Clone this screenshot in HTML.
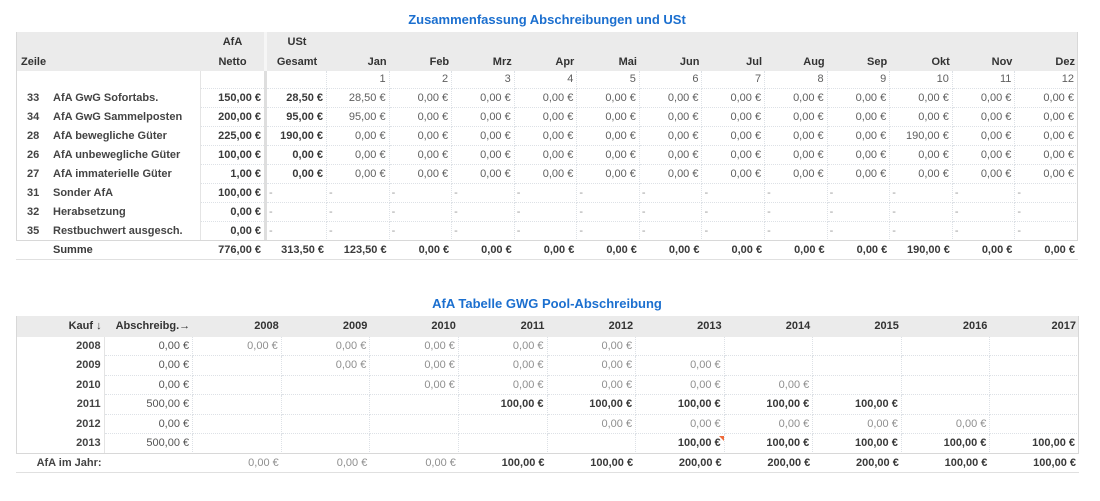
<!DOCTYPE html>
<html><head><meta charset="utf-8"><style>
body{margin:0;width:1100px;height:501px;background:#fff;font-family:"Liberation Sans",Arial,sans-serif;font-size:11px;color:#444;position:relative;overflow:hidden}
.title{position:absolute;left:16px;width:1062px;text-align:center;font-weight:bold;font-size:13px;color:#1b6fcf;height:16px;line-height:16px}
.tbl{position:absolute;left:16px}
.r{display:grid;grid-template-columns:185px 63px 3px 60px repeat(12,1fr);width:1062px}
.r>div{box-sizing:border-box;white-space:nowrap;text-align:right;padding-right:3px;overflow:visible}
.hd{height:39px;background:#ebebeb;font-weight:bold;color:#333}
.hd>div{line-height:19.5px;padding-top:1px}
.hd .ctr{text-align:center;padding-right:0}
.hd .zl{text-align:left;padding-left:5px}
.hd .sp{background:#f6f6f6}
.row{height:19px;line-height:18px}
.idx{height:18px;line-height:17px}
.row>div,.idx>div{border-bottom:1px dotted #dde1e6;border-right:1px dotted #dde1e6;color:#5f5f5f}
.row>div.z,.idx>div.z{text-align:left;padding-left:11px;border-right:1px solid #e4e4e4;border-bottom:none;font-weight:bold;color:#444}
.row>div.nt,.idx>div.nt{border-right:none}
.row>div.sp,.idx>div.sp{background:#dedede;border:none;padding:0}
.n{display:inline-block;width:26px}
.row>div.b{font-weight:bold;color:#3a3a3a}
.row>div.d{text-align:left;padding-left:2px;color:#9a9a9a}
.sum{height:19px;line-height:19px;font-weight:bold;color:#3a3a3a}
.sum>div.z{text-align:left;padding-left:11px}
.ln{position:absolute;background:#d8d8d8}
.r2{display:grid;grid-template-columns:repeat(12,1fr);width:1063px}
.r2>div{box-sizing:border-box;white-space:nowrap;text-align:right;padding-right:3px}
.h2{height:21px;line-height:21px;background:#ebebeb;font-weight:bold;color:#333}
.b2{line-height:18px}
.b2>div{border-bottom:1px dotted #dde1e6;border-right:1px dotted #dde1e6;color:#8f8f8f}
.b2>div.k{border-bottom:none;border-right:1px solid #e4e4e4;font-weight:bold;color:#444}
.b2>div.a{color:#555}
.b2>div.bb{font-weight:bold;color:#3a3a3a}
.s2{height:19px;line-height:19px}
.s2>div{color:#8f8f8f}
.s2>div.k{font-weight:bold;color:#444}
.s2>div.bb{font-weight:bold;color:#3a3a3a}
.tri{position:absolute;left:719px;top:436px;width:0;height:0;border-top:5px solid #ee6a3a;border-left:5px solid transparent}
</style></head><body>

<div class="title" style="top:12px">Zusammenfassung Abschreibungen und USt</div>

<div class="tbl" style="top:32px">
  <div class="r hd">
    <div class="zl"><br>Zeile</div>
    <div class="ctr">AfA<br>Netto</div>
    <div class="sp"></div>
    <div class="ctr">USt<br>Gesamt</div>
    <div><br>Jan</div><div><br>Feb</div><div><br>Mrz</div><div><br>Apr</div><div><br>Mai</div><div><br>Jun</div><div><br>Jul</div><div><br>Aug</div><div><br>Sep</div><div><br>Okt</div><div><br>Nov</div><div><br>Dez</div>
  </div>
  <div class="r idx">
    <div class="z"></div><div class="nt"></div><div class="sp"></div><div></div>
    <div>1</div><div>2</div><div>3</div><div>4</div><div>5</div><div>6</div><div>7</div><div>8</div><div>9</div><div>10</div><div>11</div><div>12</div>
  </div>
  <div class="r row">
    <div class="z"><span class="n">33</span>AfA GwG Sofortabs.</div><div class="nt b">150,00 €</div><div class="sp"></div><div class="b">28,50 €</div>
    <div>28,50 €</div><div>0,00 €</div><div>0,00 €</div><div>0,00 €</div><div>0,00 €</div><div>0,00 €</div><div>0,00 €</div><div>0,00 €</div><div>0,00 €</div><div>0,00 €</div><div>0,00 €</div><div>0,00 €</div>
  </div>
  <div class="r row">
    <div class="z"><span class="n">34</span>AfA GwG Sammelposten</div><div class="nt b">200,00 €</div><div class="sp"></div><div class="b">95,00 €</div>
    <div>95,00 €</div><div>0,00 €</div><div>0,00 €</div><div>0,00 €</div><div>0,00 €</div><div>0,00 €</div><div>0,00 €</div><div>0,00 €</div><div>0,00 €</div><div>0,00 €</div><div>0,00 €</div><div>0,00 €</div>
  </div>
  <div class="r row">
    <div class="z"><span class="n">28</span>AfA bewegliche Güter</div><div class="nt b">225,00 €</div><div class="sp"></div><div class="b">190,00 €</div>
    <div>0,00 €</div><div>0,00 €</div><div>0,00 €</div><div>0,00 €</div><div>0,00 €</div><div>0,00 €</div><div>0,00 €</div><div>0,00 €</div><div>0,00 €</div><div>190,00 €</div><div>0,00 €</div><div>0,00 €</div>
  </div>
  <div class="r row">
    <div class="z"><span class="n">26</span>AfA unbewegliche Güter</div><div class="nt b">100,00 €</div><div class="sp"></div><div class="b">0,00 €</div>
    <div>0,00 €</div><div>0,00 €</div><div>0,00 €</div><div>0,00 €</div><div>0,00 €</div><div>0,00 €</div><div>0,00 €</div><div>0,00 €</div><div>0,00 €</div><div>0,00 €</div><div>0,00 €</div><div>0,00 €</div>
  </div>
  <div class="r row">
    <div class="z"><span class="n">27</span>AfA immaterielle Güter</div><div class="nt b">1,00 €</div><div class="sp"></div><div class="b">0,00 €</div>
    <div>0,00 €</div><div>0,00 €</div><div>0,00 €</div><div>0,00 €</div><div>0,00 €</div><div>0,00 €</div><div>0,00 €</div><div>0,00 €</div><div>0,00 €</div><div>0,00 €</div><div>0,00 €</div><div>0,00 €</div>
  </div>
  <div class="r row">
    <div class="z"><span class="n">31</span>Sonder AfA</div><div class="nt b">100,00 €</div><div class="sp"></div><div class="d">-</div>
    <div class="d">-</div><div class="d">-</div><div class="d">-</div><div class="d">-</div><div class="d">-</div><div class="d">-</div><div class="d">-</div><div class="d">-</div><div class="d">-</div><div class="d">-</div><div class="d">-</div><div class="d">-</div>
  </div>
  <div class="r row">
    <div class="z"><span class="n">32</span>Herabsetzung</div><div class="nt b">0,00 €</div><div class="sp"></div><div class="d">-</div>
    <div class="d">-</div><div class="d">-</div><div class="d">-</div><div class="d">-</div><div class="d">-</div><div class="d">-</div><div class="d">-</div><div class="d">-</div><div class="d">-</div><div class="d">-</div><div class="d">-</div><div class="d">-</div>
  </div>
  <div class="r row">
    <div class="z"><span class="n">35</span>Restbuchwert ausgesch.</div><div class="nt b">0,00 €</div><div class="sp"></div><div class="d">-</div>
    <div class="d">-</div><div class="d">-</div><div class="d">-</div><div class="d">-</div><div class="d">-</div><div class="d">-</div><div class="d">-</div><div class="d">-</div><div class="d">-</div><div class="d">-</div><div class="d">-</div><div class="d">-</div>
  </div>
  <div class="r sum">
    <div class="z"><span class="n"></span>Summe</div><div>776,00 €</div><div></div><div>313,50 €</div>
    <div>123,50 €</div><div>0,00 €</div><div>0,00 €</div><div>0,00 €</div><div>0,00 €</div><div>0,00 €</div><div>0,00 €</div><div>0,00 €</div><div>0,00 €</div><div>190,00 €</div><div>0,00 €</div><div>0,00 €</div>
  </div>
</div>
<div class="ln" style="left:16px;top:32px;width:1px;height:209px"></div>
<div class="ln" style="left:1077px;top:32px;width:1px;height:209px"></div>
<div class="ln" style="left:16px;top:240px;width:1062px;height:1px"></div>
<div class="ln" style="left:16px;top:259px;width:1062px;height:1px;background:#e0e0e0"></div>

<div class="title" style="top:296px">AfA Tabelle GWG Pool-Abschreibung</div>

<div class="tbl" style="top:316px">
  <div class="r2 h2">
    <div>Kauf ↓</div><div>Abschreibg.→</div><div>2008</div><div>2009</div><div>2010</div><div>2011</div><div>2012</div><div>2013</div><div>2014</div><div>2015</div><div>2016</div><div>2017</div>
  </div>
  <div class="r2 b2" style="height:19px">
    <div class="k">2008</div><div class="a">0,00 €</div><div>0,00 €</div><div>0,00 €</div><div>0,00 €</div><div>0,00 €</div><div>0,00 €</div><div></div><div></div><div></div><div></div><div></div>
  </div>
  <div class="r2 b2" style="height:20px;line-height:19px">
    <div class="k">2009</div><div class="a">0,00 €</div><div></div><div>0,00 €</div><div>0,00 €</div><div>0,00 €</div><div>0,00 €</div><div>0,00 €</div><div></div><div></div><div></div><div></div>
  </div>
  <div class="r2 b2" style="height:19px">
    <div class="k">2010</div><div class="a">0,00 €</div><div></div><div></div><div>0,00 €</div><div>0,00 €</div><div>0,00 €</div><div>0,00 €</div><div>0,00 €</div><div></div><div></div><div></div>
  </div>
  <div class="r2 b2" style="height:20px;line-height:19px">
    <div class="k">2011</div><div class="a">500,00 €</div><div></div><div></div><div></div><div class="bb">100,00 €</div><div class="bb">100,00 €</div><div class="bb">100,00 €</div><div class="bb">100,00 €</div><div class="bb">100,00 €</div><div></div><div></div>
  </div>
  <div class="r2 b2" style="height:19px">
    <div class="k">2012</div><div class="a">0,00 €</div><div></div><div></div><div></div><div></div><div>0,00 €</div><div>0,00 €</div><div>0,00 €</div><div>0,00 €</div><div>0,00 €</div><div></div>
  </div>
  <div class="r2 b2" style="height:20px;line-height:19px">
    <div class="k">2013</div><div class="a">500,00 €</div><div></div><div></div><div></div><div></div><div></div><div class="bb">100,00 €</div><div class="bb">100,00 €</div><div class="bb">100,00 €</div><div class="bb">100,00 €</div><div class="bb">100,00 €</div>
  </div>
  <div class="r2 s2">
    <div class="k">AfA im Jahr:</div><div></div><div>0,00 €</div><div>0,00 €</div><div>0,00 €</div><div class="bb">100,00 €</div><div class="bb">100,00 €</div><div class="bb">200,00 €</div><div class="bb">200,00 €</div><div class="bb">200,00 €</div><div class="bb">100,00 €</div><div class="bb">100,00 €</div>
  </div>
</div>
<div class="ln" style="left:16px;top:316px;width:1px;height:138px"></div>
<div class="ln" style="left:1078px;top:316px;width:1px;height:138px"></div>
<div class="ln" style="left:16px;top:453px;width:1063px;height:1px"></div>
<div class="ln" style="left:16px;top:472px;width:1063px;height:1px;background:#e0e0e0"></div>
<div class="tri"></div>

</body></html>
